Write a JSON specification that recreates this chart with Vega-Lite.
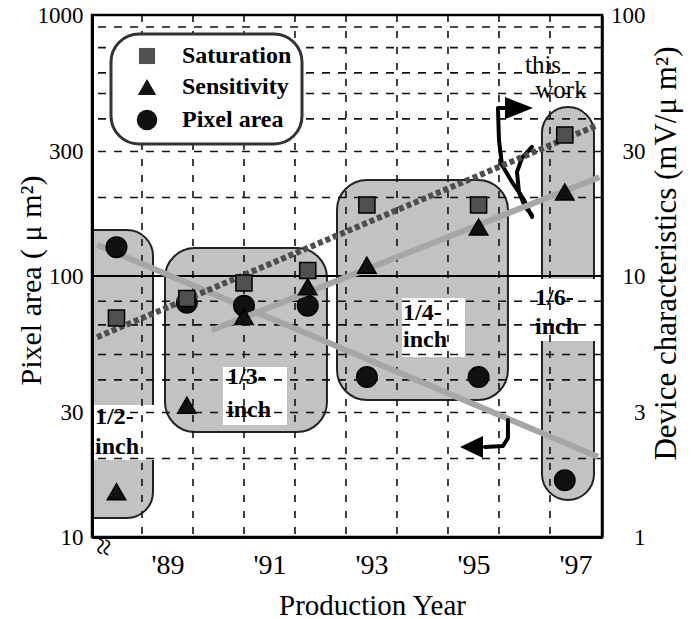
{
  "$schema": "https://vega.github.io/schema/vega-lite/v6.json",
  "width": 510,
  "height": 522,
  "autosize": {"type": "none"},
  "padding": {"left": 92, "top": 15, "right": 93, "bottom": 82},
  "background": "white",
  "datasets": {
    "points": [
      {"year": 1988.0, "m": "Pixel area", "v": 129},
      {"year": 1989.38, "m": "Pixel area", "v": 79},
      {"year": 1990.5, "m": "Pixel area", "v": 77},
      {"year": 1991.75, "m": "Pixel area", "v": 77},
      {"year": 1992.91, "m": "Pixel area", "v": 41},
      {"year": 1995.1, "m": "Pixel area", "v": 41},
      {"year": 1996.79, "m": "Pixel area", "v": 16.5},
      {"year": 1988.0, "m": "Saturation", "v": 6.9},
      {"year": 1989.38, "m": "Saturation", "v": 8.2},
      {"year": 1990.5, "m": "Saturation", "v": 9.4},
      {"year": 1991.75, "m": "Saturation", "v": 10.5},
      {"year": 1992.91, "m": "Saturation", "v": 18.7},
      {"year": 1995.1, "m": "Saturation", "v": 18.7},
      {"year": 1996.79, "m": "Saturation", "v": 34.7},
      {"year": 1988.0, "m": "Sensitivity", "v": 1.49},
      {"year": 1989.38, "m": "Sensitivity", "v": 3.2},
      {"year": 1990.5, "m": "Sensitivity", "v": 7.0},
      {"year": 1991.75, "m": "Sensitivity", "v": 9.1},
      {"year": 1992.91, "m": "Sensitivity", "v": 11.0},
      {"year": 1995.1, "m": "Sensitivity", "v": 15.4},
      {"year": 1996.79, "m": "Sensitivity", "v": 21.0}
    ],
    "shapes": [
      {"g": "half", "year": 1987.52, "year2": 1988.716, "v": 150.1, "v2": 11.83},
      {"g": "third", "year": 1988.951, "year2": 1992.127, "v": 128.0, "v2": 25.25},
      {"g": "quarter", "year": 1992.324, "year2": 1995.676, "v": 233.2, "v2": 33.48},
      {"g": "sixth", "year": 1996.343, "year2": 1997.363, "v": 444.1, "v2": 13.86}
    ],
    "bands": [
      {"year": 1987.52, "year2": 1988.755, "v": 32.05, "v2": 19.72},
      {"year": 1990.088, "year2": 1991.343, "v": 44.8, "v2": 26.86},
      {"year": 1993.598, "year2": 1994.833, "v": 82.3, "v2": 48.95},
      {"year": 1996.108, "year2": 1997.441, "v": 97.4, "v2": 56.4}
    ],
    "vgrid": [
      {"year": 1988.5}, {"year": 1989.5}, {"year": 1990.5}, {"year": 1991.5}, {"year": 1992.5},
      {"year": 1993.5}, {"year": 1994.5}, {"year": 1995.5}, {"year": 1996.5}
    ],
    "hgrid": [
      {"v": 20}, {"v": 30}, {"v": 40}, {"v": 50}, {"v": 65}, {"v": 80},
      {"v": 200}, {"v": 300}, {"v": 400}, {"v": 500}, {"v": 600}, {"v": 750}, {"v": 900}
    ],
    "arrows": [
      {"a": "stem", "k": 1, "year": 1995.716, "v": 440.4},
      {"a": "stem", "k": 2, "year": 1995.48, "v": 440.4},
      {"a": "stem", "k": 3, "year": 1995.5, "v": 331.9},
      {"a": "stem", "k": 4, "year": 1995.559, "v": 266.3},
      {"a": "stem", "k": 5, "year": 1995.755, "v": 229.2},
      {"a": "stem", "k": 6, "year": 1995.99, "v": 195.6},
      {"a": "stem", "k": 7, "year": 1996.147, "v": 168.3},
      {"a": "arc", "k": 1, "year": 1996.147, "v": 312.2},
      {"a": "arc", "k": 2, "year": 1995.951, "v": 283.3},
      {"a": "arc", "k": 3, "year": 1995.853, "v": 250.3},
      {"a": "arc", "k": 4, "year": 1995.892, "v": 209.8},
      {"a": "arc", "k": 5, "year": 1996.01, "v": 183.8},
      {"a": "arc", "k": 6, "year": 1996.147, "v": 171.3},
      {"a": "low", "k": 1, "year": 1995.676, "v": 28.07},
      {"a": "low", "k": 2, "year": 1995.676, "v": 23.95},
      {"a": "low", "k": 3, "year": 1995.578, "v": 22.32},
      {"a": "low", "k": 4, "year": 1995.225, "v": 22.12}
    ],
    "labels": [
      {"t": "1/2-", "year": 1987.578, "v": 28.83},
      {"t": "inch", "year": 1987.578, "v": 22.12},
      {"t": "1/3-", "year": 1990.167, "v": 41.0},
      {"t": "inch", "year": 1990.167, "v": 30.7},
      {"t": "1/4-", "year": 1993.618, "v": 72.1},
      {"t": "inch", "year": 1993.618, "v": 56.9},
      {"t": "1/6-", "year": 1996.206, "v": 82.3},
      {"t": "inch", "year": 1996.206, "v": 63.8}
    ]
  },
  "layer": [
    {
      "layer": [
        {
          "data": {"name": "shapes"},
          "transform": [{"filter": "datum.g == 'half'"}],
          "mark": {"type": "rect", "fill": "#c2c2c2", "stroke": "#222222", "strokeWidth": 2, "cornerRadiusTopRight": 26, "cornerRadiusBottomRight": 26},
          "encoding": {
            "x": {"field": "year", "type": "quantitative", "scale": {"domain": [1987.52, 1997.52], "nice": false, "zero": false},
              "axis": {"title": "Production Year", "values": [1989, 1991, 1993, 1995, 1997], "labelExpr": "\"'\" + slice(toString(datum.value), 2)", "grid": false, "ticks": false, "domain": true, "domainColor": "black", "domainWidth": 3, "zindex": 1, "labelFont": "Liberation Serif", "labelFontSize": 28, "labelColor": "black", "labelPadding": 14, "labelFlush": false, "labelOverlap": false, "titleFont": "Liberation Serif", "titleFontSize": 29, "titleFontWeight": "normal", "titleColor": "black", "titleX": 280, "titleY": 77, "titleBaseline": "alphabetic", "titleAlign": "center"}},
            "x2": {"field": "year2"},
            "y": {"field": "v", "type": "quantitative", "scale": {"type": "log", "domain": [10, 1000], "nice": false},
              "axis": {"title": "Pixel area ( μ m²)", "values": [10, 30, 100, 300, 1000], "format": "d", "grid": false, "ticks": false, "domain": true, "domainColor": "black", "domainWidth": 3, "zindex": 1, "labelFont": "Liberation Serif", "labelFontSize": 23, "labelColor": "black", "labelPadding": 9, "labelFlush": false, "labelOverlap": false, "titleFont": "Liberation Serif", "titleFontSize": 30, "titleFontWeight": "normal", "titleColor": "black", "titleX": -52, "titleY": 265, "titleAngle": -90, "titleBaseline": "alphabetic", "titleAlign": "center"}},
            "y2": {"field": "v2"}
          }
        },
        {
          "data": {"name": "shapes"},
          "transform": [{"filter": "datum.g == 'third' || datum.g == 'quarter'"}],
          "mark": {"type": "rect", "fill": "#c2c2c2", "stroke": "#222222", "strokeWidth": 2, "cornerRadius": 30},
          "encoding": {
            "x": {"field": "year", "type": "quantitative", "scale": {"domain": [1987.52, 1997.52], "nice": false, "zero": false}},
            "x2": {"field": "year2"},
            "y": {"field": "v", "type": "quantitative", "scale": {"type": "log", "domain": [10, 1000], "nice": false}},
            "y2": {"field": "v2"}
          }
        },
        {
          "data": {"name": "shapes"},
          "transform": [{"filter": "datum.g == 'sixth'"}],
          "mark": {"type": "rect", "fill": "#c2c2c2", "stroke": "#222222", "strokeWidth": 2, "cornerRadius": 26},
          "encoding": {
            "x": {"field": "year", "type": "quantitative", "scale": {"domain": [1987.52, 1997.52], "nice": false, "zero": false}},
            "x2": {"field": "year2"},
            "y": {"field": "v", "type": "quantitative", "scale": {"type": "log", "domain": [10, 1000], "nice": false}},
            "y2": {"field": "v2"}
          }
        },
        {
          "data": {"name": "bands"},
          "mark": {"type": "rect", "fill": "white", "strokeWidth": 0},
          "encoding": {
            "x": {"field": "year", "type": "quantitative", "scale": {"domain": [1987.52, 1997.52], "nice": false, "zero": false}},
            "x2": {"field": "year2"},
            "y": {"field": "v", "type": "quantitative", "scale": {"type": "log", "domain": [10, 1000], "nice": false}},
            "y2": {"field": "v2"}
          }
        },
        {
          "data": {"name": "vgrid"},
          "mark": {"type": "rule", "stroke": "#111111", "strokeWidth": 1.6, "strokeDash": [7, 9]},
          "encoding": {
            "x": {"field": "year", "type": "quantitative", "scale": {"domain": [1987.52, 1997.52], "nice": false, "zero": false}}
          }
        },
        {
          "data": {"name": "hgrid"},
          "mark": {"type": "rule", "stroke": "#111111", "strokeWidth": 1.6, "strokeDash": [8, 8]},
          "encoding": {
            "y": {"field": "v", "type": "quantitative", "scale": {"type": "log", "domain": [10, 1000], "nice": false}}
          }
        },
        {
          "data": {"values": [{"v": 100}]},
          "mark": {"type": "rule", "stroke": "black", "strokeWidth": 2},
          "encoding": {
            "y": {"field": "v", "type": "quantitative", "scale": {"type": "log", "domain": [10, 1000], "nice": false}}
          }
        },
        {
          "data": {"values": [{"year": 1987.62, "v": 131.6}, {"year": 1997.44, "v": 20.3}]},
          "mark": {"type": "line", "stroke": "#a6a6a6", "strokeWidth": 6},
          "encoding": {
            "x": {"field": "year", "type": "quantitative", "scale": {"domain": [1987.52, 1997.52], "nice": false, "zero": false}},
            "y": {"field": "v", "type": "quantitative", "scale": {"type": "log", "domain": [10, 1000], "nice": false}}
          }
        },
        {
          "data": {"name": "arrows"},
          "mark": {"type": "line", "stroke": "black", "strokeWidth": 4, "strokeJoin": "round", "strokeCap": "round"},
          "encoding": {
            "x": {"field": "year", "type": "quantitative", "scale": {"domain": [1987.52, 1997.52], "nice": false, "zero": false}},
            "y": {"field": "v", "type": "quantitative", "scale": {"type": "log", "domain": [10, 1000], "nice": false}},
            "detail": {"field": "a", "type": "nominal"},
            "order": {"field": "k", "type": "quantitative"}
          }
        },
        {
          "data": {"values": [{"year": 1995.892, "v": 440}]},
          "mark": {"type": "point", "shape": "M-1,-0.79L1,0L-1,0.79Z", "size": 784, "filled": true, "fill": "black", "opacity": 1},
          "encoding": {
            "x": {"field": "year", "type": "quantitative", "scale": {"domain": [1987.52, 1997.52], "nice": false, "zero": false}},
            "y": {"field": "v", "type": "quantitative", "scale": {"type": "log", "domain": [10, 1000], "nice": false}}
          }
        },
        {
          "data": {"values": [{"year": 1994.961, "v": 22.12}]},
          "mark": {"type": "point", "shape": "M1,-0.95L-1,0L1,0.95Z", "size": 529, "filled": true, "fill": "black", "opacity": 1},
          "encoding": {
            "x": {"field": "year", "type": "quantitative", "scale": {"domain": [1987.52, 1997.52], "nice": false, "zero": false}},
            "y": {"field": "v", "type": "quantitative", "scale": {"type": "log", "domain": [10, 1000], "nice": false}}
          }
        },
        {
          "data": {"name": "points"},
          "transform": [{"filter": "datum.m == 'Pixel area'"}],
          "mark": {"type": "point", "filled": true, "stroke": "black", "strokeWidth": 1.5, "opacity": 1},
          "encoding": {
            "x": {"field": "year", "type": "quantitative", "scale": {"domain": [1987.52, 1997.52], "nice": false, "zero": false}},
            "y": {"field": "v", "type": "quantitative", "scale": {"type": "log", "domain": [10, 1000], "nice": false}},
            "shape": {"field": "m", "type": "nominal", "scale": {"domain": ["Saturation", "Sensitivity", "Pixel area"], "range": ["square", "triangle-up", "circle"]}, "legend": {"title": null}},
            "color": {"field": "m", "type": "nominal", "scale": {"domain": ["Saturation", "Sensitivity", "Pixel area"], "range": ["#505050", "#111111", "#111111"]}, "legend": {"title": null}},
            "size": {"field": "m", "type": "nominal", "scale": {"domain": ["Saturation", "Sensitivity", "Pixel area"], "range": [260, 420, 240]}, "legend": {"title": null}}
          }
        },
        {
          "data": {"name": "labels"},
          "mark": {"type": "text", "font": "Liberation Serif", "fontWeight": "bold", "fontSize": 24, "align": "left", "baseline": "middle", "fill": "black"},
          "encoding": {
            "x": {"field": "year", "type": "quantitative", "scale": {"domain": [1987.52, 1997.52], "nice": false, "zero": false}},
            "y": {"field": "v", "type": "quantitative", "scale": {"type": "log", "domain": [10, 1000], "nice": false}},
            "text": {"field": "t", "type": "nominal"}
          }
        },
        {
          "data": {"values": [{"t": "this", "year": 1996.363, "v": 600}, {"t": "work", "year": 1996.716, "v": 480}]},
          "mark": {"type": "text", "font": "Liberation Serif", "fontSize": 25, "align": "center", "baseline": "alphabetic", "fill": "black"},
          "encoding": {
            "x": {"field": "year", "type": "quantitative", "scale": {"domain": [1987.52, 1997.52], "nice": false, "zero": false}},
            "y": {"field": "v", "type": "quantitative", "scale": {"type": "log", "domain": [10, 1000], "nice": false}},
            "text": {"field": "t", "type": "nominal"}
          }
        },
        {
          "data": {"values": [{"t": "≈", "year": 1987.735, "v": 9.16}]},
          "mark": {"type": "text", "font": "Liberation Serif", "fontSize": 32, "align": "center", "baseline": "middle", "angle": 100, "fill": "black"},
          "encoding": {
            "x": {"field": "year", "type": "quantitative", "scale": {"domain": [1987.52, 1997.52], "nice": false, "zero": false}},
            "y": {"field": "v", "type": "quantitative", "scale": {"type": "log", "domain": [10, 1000], "nice": false}},
            "text": {"field": "t", "type": "nominal"}
          }
        }
      ]
    },
    {
      "layer": [
        {
          "data": {"values": [{"year": 1987.62, "v": 5.83}, {"year": 1997.44, "v": 37.9}]},
          "mark": {"type": "line", "stroke": "#4d4d4d", "strokeWidth": 6, "strokeDash": [5, 3]},
          "encoding": {
            "x": {"field": "year", "type": "quantitative", "scale": {"domain": [1987.52, 1997.52], "nice": false, "zero": false}},
            "y": {"field": "v", "type": "quantitative", "scale": {"type": "log", "domain": [1, 100], "nice": false},
              "axis": {"orient": "right", "title": "Device characteristics (mV/μ m²)", "values": [1, 3, 10, 30, 100], "format": "d", "grid": false, "ticks": false, "domain": true, "domainColor": "black", "domainWidth": 2.5, "zindex": 1, "labelFont": "Liberation Serif", "labelFontSize": 23, "labelColor": "black", "labelAlign": "right", "labelPadding": 43, "labelFlush": false, "labelOverlap": false, "titleFont": "Liberation Serif", "titleFontSize": 31, "titleFontWeight": "normal", "titleColor": "black", "titleX": 73, "titleY": 238, "titleAngle": -90, "titleBaseline": "alphabetic", "titleAlign": "center"}}
          }
        },
        {
          "data": {"values": [{"year": 1989.87, "v": 6.2}, {"year": 1997.47, "v": 23.9}]},
          "mark": {"type": "line", "stroke": "#a6a6a6", "strokeWidth": 6},
          "encoding": {
            "x": {"field": "year", "type": "quantitative", "scale": {"domain": [1987.52, 1997.52], "nice": false, "zero": false}},
            "y": {"field": "v", "type": "quantitative", "scale": {"type": "log", "domain": [1, 100], "nice": false}}
          }
        },
        {
          "data": {"name": "points"},
          "transform": [{"filter": "datum.m != 'Pixel area'"}],
          "mark": {"type": "point", "filled": true, "stroke": "black", "strokeWidth": 1.5, "opacity": 1},
          "encoding": {
            "x": {"field": "year", "type": "quantitative", "scale": {"domain": [1987.52, 1997.52], "nice": false, "zero": false}},
            "y": {"field": "v", "type": "quantitative", "scale": {"type": "log", "domain": [1, 100], "nice": false}},
            "shape": {"field": "m", "type": "nominal", "scale": {"domain": ["Saturation", "Sensitivity", "Pixel area"], "range": ["square", "triangle-up", "circle"]}, "legend": {"title": null}},
            "color": {"field": "m", "type": "nominal", "scale": {"domain": ["Saturation", "Sensitivity", "Pixel area"], "range": ["#505050", "#111111", "#111111"]}, "legend": {"title": null}},
            "size": {"field": "m", "type": "nominal", "scale": {"domain": ["Saturation", "Sensitivity", "Pixel area"], "range": [260, 420, 240]}, "legend": {"title": null}}
          }
        }
      ]
    }
  ],
  "resolve": {"scale": {"y": "independent"}},
  "config": {
    "font": "Liberation Serif",
    "view": {"stroke": "black", "strokeWidth": 2.5},
    "legend": {
      "orient": "top-left",
      "offset": 19,
      "padding": 10,
      "rowPadding": 7,
      "cornerRadius": 28,
      "strokeColor": "#333333",
      "strokeWidth": 3,
      "fillColor": "white",
      "labelFont": "Liberation Serif",
      "labelFontSize": 24,
      "labelFontWeight": "bold",
      "labelColor": "black",
      "symbolOffset": 14,
      "labelOffset": 23,
      "symbolStrokeColor": "black",
      "symbolStrokeWidth": 1.5,
      "symbolOpacity": 1
    }
  }
}
